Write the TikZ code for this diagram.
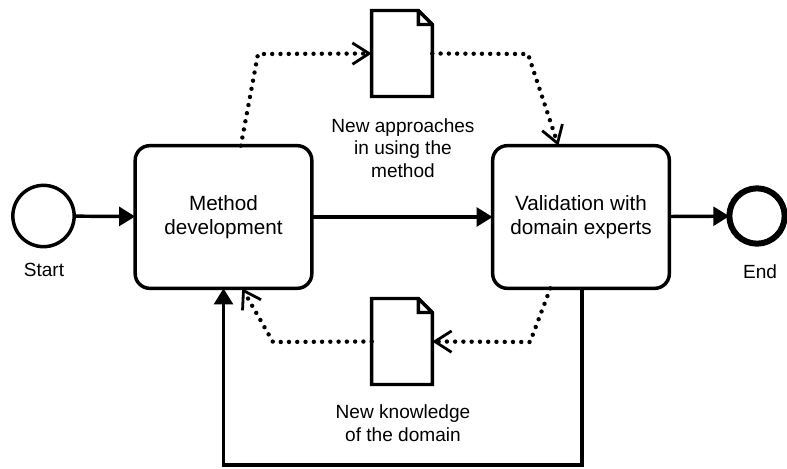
\documentclass[tikz,border=0pt]{standalone}
\usepackage{fontspec}
\setmainfont{Liberation Sans}
\usetikzlibrary{arrows.meta}
\begin{document}
\begin{tikzpicture}[x=0.75pt,y=-0.75pt,
  every node/.style={inner sep=0pt, outer sep=0pt},
  startevent/.style={circle, draw, line width=2.6pt, minimum size=46pt},
  endevent/.style={circle, draw, line width=4.5pt, minimum size=41.5pt},
  task/.style={draw, line width=2.6pt, rounded corners=11pt,
    minimum width=132.5pt, minimum height=107pt, align=center,
    font=\fontsize{15.5}{18}\selectfont},
  docarea/.style={minimum width=45.5pt, minimum height=64.5pt},
  docline/.style={line width=2.6pt, line join=miter},
  lbl/.style={align=center, font=\fontsize{14.3}{17}\selectfont},
  seq/.style={line width=2.6pt, -{Triangle[length=12pt,width=14pt]}},
  assoc/.style={line width=3.3pt, dash pattern=on 0pt off 6.2pt, line cap=round,
    -{Straight Barb[length=12.5pt,width=16pt,line width=2.1pt,line cap=butt]}}
]
\useasboundingbox (0,0) rectangle (787,468);

% events and tasks
\node[startevent] (start) at (43.5,216) {};
\node[lbl] (startlbl) at (44,270) {Start};
\node[task] (m) at (223.5,217) {Method\\development};
\node[task] (v) at (581,217) {Validation with\\domain experts};
\node[endevent] (end) at (757,216) {};
\node[lbl] (endlbl) at (760,272) {End};

% data objects
\node[docarea] (d1) at (402,53.5) {};
\node[docarea] (d2) at (402,341.5) {};
\foreach \d in {d1,d2}
  \draw[docline] (\d.north west) -- ([xshift=-10.5pt]\d.north east)
    -- ([yshift=-10.5pt]\d.north east) -- (\d.south east)
    -- (\d.south west) -- cycle
    ([xshift=-10.5pt]\d.north east) |- ([yshift=-10.5pt]\d.north east);
\node[lbl] (d1lbl) at (403,148) {New approaches\\in using the\\method};
\node[lbl] (d2lbl) at (403,423) {New knowledge\\of the domain};

% sequence flows
\draw[seq] (start) -- (m);
\draw[seq] (m) -- (v);
\draw[seq] (v) -- (end);
\coordinate (loop) at (400,465);
\draw[seq] ([xshift=0.75pt]v.south) |- (loop) -| (m.south);

% data associations
\coordinate (a1) at (258,54);
\coordinate (a2) at (528,54);
\coordinate (a3) at (530,342);
\coordinate (a4) at (273,342);
\draw[assoc] ([xshift=13pt]m.north) -- (a1) -- (d1.west);
\draw[assoc] (d1.east) -- (a2) -- ([xshift=-17pt]v.north);
\draw[assoc] ([xshift=-23pt]v.south) -- (a3) -- (d2.east);
\draw[assoc] (d2.west) -- (a4) -- ([xshift=14pt]m.south);
\end{tikzpicture}
\end{document}
